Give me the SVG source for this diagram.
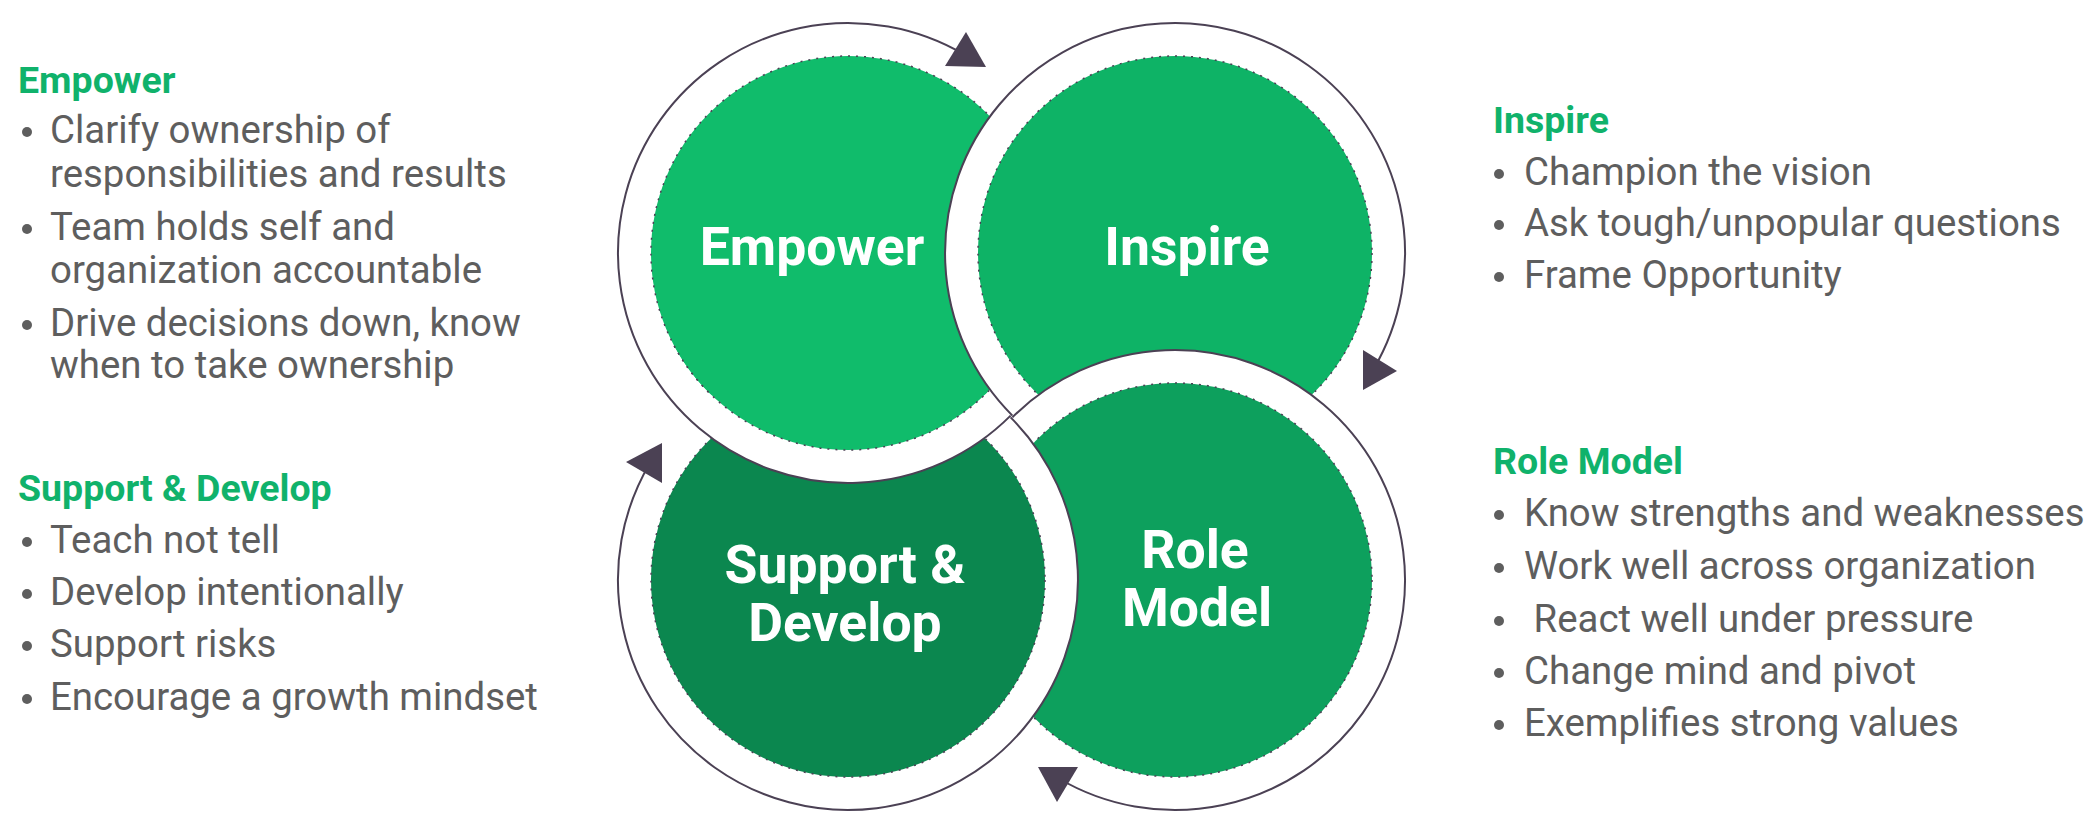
<svg xmlns="http://www.w3.org/2000/svg" xmlns:xlink="http://www.w3.org/1999/xlink" width="2100" height="830" viewBox="0 0 2100 830">
  <style>
    .band { fill: #ffffff; stroke: none; }
    .core { stroke: #4b4154; stroke-width: 1.5; stroke-dasharray: 2 6; }
    .label { font-family: Roboto, "Liberation Sans", sans-serif; font-weight: 700; font-size: 53.5px; fill: #ffffff; text-anchor: middle; }
    .head { font-family: Roboto, "Liberation Sans", sans-serif; font-weight: 700; font-size: 37.5px; fill: #10b26b; }
    .item { font-family: Roboto, "Liberation Sans", sans-serif; font-weight: 400; font-size: 38.4px; fill: #5e5e5e; }
    .dot { fill: #5e5e5e; }
    .arc { fill: none; stroke: #4b4154; stroke-width: 2; }
    .head-arrow { fill: #4b4154; }
  </style>
  <defs>
    <clipPath id="clipSupportDisk">
      <circle cx="848" cy="580" r="230"/>
    </clipPath>
    <clipPath id="clipEmpowerOverSupport">
      <polygon points="600,345 940,345 1011.5,416.5 1080,485 600,485"/>
    </clipPath>
  </defs>

  <rect x="0" y="0" width="2100" height="830" fill="#ffffff"/>

  <!-- Empower node -->
  <g id="empower">
    <circle id="empower-band" class="band" cx="848" cy="253" r="230"/>
    <circle id="empower-core" class="core" cx="848" cy="253" r="197" fill="#10bc6b"/>
    <text class="label" x="812" y="265">Empower</text>
  </g>

  <!-- Inspire node -->
  <g id="inspire">
    <circle class="band" cx="1175" cy="253" r="230"/>
    <circle class="core" cx="1175" cy="253" r="197" fill="#0eb366"/>
    <text class="label" x="1187" y="265">Inspire</text>
  </g>

  <!-- Role Model node -->
  <g id="role-model">
    <circle class="band" cx="1175" cy="580" r="230"/>
    <circle class="core" cx="1175" cy="580" r="197" fill="#0da05d"/>
    <text class="label" x="1195" y="568">Role</text>
    <text class="label" x="1197" y="626">Model</text>
  </g>

  <!-- Support & Develop node -->
  <g id="support-develop">
    <circle class="band" cx="848" cy="580" r="230"/>
    <circle class="core" cx="848" cy="580" r="197" fill="#0b874f"/>
    <text class="label" x="845" y="583">Support &amp;</text>
    <text class="label" x="845" y="641">Develop</text>
  </g>

  <!-- Empower overlaps Support & Develop (closes the interlocking cycle) -->
  <g id="empower-overlap">
    <use xlink:href="#empower-band" href="#empower-band" clip-path="url(#clipSupportDisk)"/>
    <use xlink:href="#empower-core" href="#empower-core" clip-path="url(#clipEmpowerOverSupport)"/>
  </g>

  <!-- Connectors: cycle arcs with arrowheads -->
  <g id="connectors">
    <path class="arc" d="M1010.6,415.6 A230,230 0 1 1 965.1,55.0"/>
    <polygon class="head-arrow" points="966,32 945,66 986,67"/>
    <path class="arc" d="M1012.4,415.6 A230,230 0 1 1 1373.0,370.1"/>
    <polygon class="head-arrow" points="1363,350 1363,390 1397,371"/>
    <path class="arc" d="M1012.4,417.4 A230,230 0 1 1 1057.9,778.0"/>
    <polygon class="head-arrow" points="1038,767 1078,767 1057,802"/>
    <path class="arc" d="M1010.6,417.4 A230,230 0 1 1 650.0,462.9"/>
    <polygon class="head-arrow" points="626,462 662,443 662,483"/>
  </g>

  <!-- Side text: Empower -->
  <g id="text-empower">
    <text class="head" x="18" y="93">Empower</text>
    <circle class="dot" cx="27" cy="132" r="5"/>
    <text class="item" x="50" y="142.5">Clarify ownership of</text>
    <text class="item" x="50" y="186.5">responsibilities and results</text>
    <circle class="dot" cx="27" cy="229" r="5"/>
    <text class="item" x="50" y="239.5">Team holds self and</text>
    <text class="item" x="50" y="282.5">organization accountable</text>
    <circle class="dot" cx="27" cy="325" r="5"/>
    <text class="item" x="50" y="335.5">Drive decisions down, know</text>
    <text class="item" x="50" y="377.5">when to take ownership</text>
  </g>

  <!-- Side text: Support & Develop -->
  <g id="text-support">
    <text class="head" x="18" y="501">Support &amp; Develop</text>
    <circle class="dot" cx="27" cy="542" r="5"/>
    <text class="item" x="50" y="552.5">Teach not tell</text>
    <circle class="dot" cx="27" cy="594" r="5"/>
    <text class="item" x="50" y="604.5">Develop intentionally</text>
    <circle class="dot" cx="27" cy="646" r="5"/>
    <text class="item" x="50" y="656.5">Support risks</text>
    <circle class="dot" cx="27" cy="699" r="5"/>
    <text class="item" x="50" y="709.5">Encourage a growth mindset</text>
  </g>

  <!-- Side text: Inspire -->
  <g id="text-inspire">
    <text class="head" x="1493" y="133">Inspire</text>
    <circle class="dot" cx="1499" cy="174" r="5"/>
    <text class="item" x="1524" y="184.5">Champion the vision</text>
    <circle class="dot" cx="1499" cy="225" r="5"/>
    <text class="item" x="1524" y="235.5">Ask tough/unpopular questions</text>
    <circle class="dot" cx="1499" cy="277" r="5"/>
    <text class="item" x="1524" y="287.5">Frame Opportunity</text>
  </g>

  <!-- Side text: Role Model -->
  <g id="text-role">
    <text class="head" x="1493" y="474">Role Model</text>
    <circle class="dot" cx="1499" cy="515" r="5"/>
    <text class="item" x="1524" y="525.5">Know strengths and weaknesses</text>
    <circle class="dot" cx="1499" cy="568" r="5"/>
    <text class="item" x="1524" y="578.5">Work well across organization</text>
    <circle class="dot" cx="1499" cy="621" r="5"/>
    <text class="item" x="1524" y="631.5" xml:space="preserve"> React well under pressure</text>
    <circle class="dot" cx="1499" cy="673" r="5"/>
    <text class="item" x="1524" y="683.5">Change mind and pivot</text>
    <circle class="dot" cx="1499" cy="725" r="5"/>
    <text class="item" x="1524" y="735.5">Exemplifies strong values</text>
  </g>
</svg>
